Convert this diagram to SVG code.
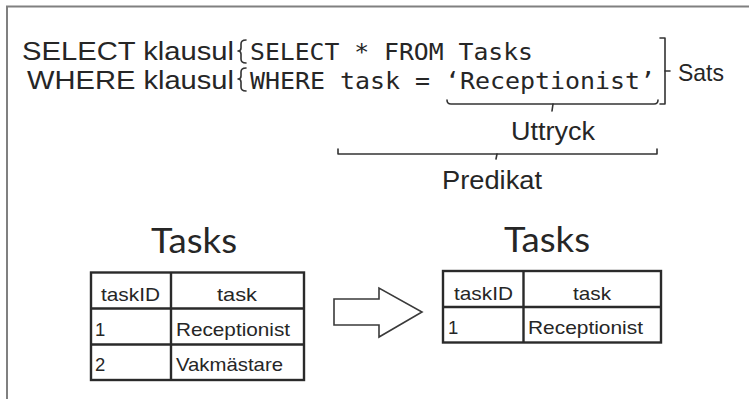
<svg xmlns="http://www.w3.org/2000/svg" width="749" height="399" viewBox="0 0 749 399">
<style>
.sans{font-family:"Liberation Sans",Arial,sans-serif;fill:#262626}
.mono{font-family:"DejaVu Sans Mono","Liberation Mono",monospace;fill:#262626}
.title{font-family:Lato,"Open Sans",sans-serif;fill:#262626}
.br{fill:none;stroke:#333;stroke-width:1.6;stroke-linejoin:round;stroke-linecap:round}
.tbl{fill:none;stroke:#2a2a2a;stroke-width:2.4}
.cell{font-family:"Liberation Sans",Arial,sans-serif;fill:#262626;font-size:18.5px}
</style>
<rect width="749" height="399" fill="#fff"/>
<path d="M7 399 L7 6.5 L749 6.5" fill="none" stroke="#808080" stroke-width="2"/>

<g id="query">
<text class="sans" x="22" y="60" font-size="25" textLength="212" lengthAdjust="spacingAndGlyphs">SELECT klausul</text>
<text class="sans" x="27" y="88.5" font-size="25" textLength="207" lengthAdjust="spacingAndGlyphs">WHERE klausul</text>
<text class="mono" x="250" y="60" font-size="23.5" textLength="283" lengthAdjust="spacingAndGlyphs">SELECT * FROM Tasks</text>
<text class="mono" x="250" y="88.5" font-size="23.5" textLength="405" lengthAdjust="spacingAndGlyphs">WHERE task = ‘Receptionist’</text>
</g>

<g id="connectors">
<path class="br" d="M246 40 Q241 40 241 44 L241 48 Q241 51 238 51 Q241 51 241 54 L241 59 Q241 63 246 63"/>
<path class="br" d="M246 68 Q241 68 241 72 L241 76 Q241 79 238 79 Q241 79 241 82 L241 87 Q241 91 246 91"/>
<path class="br" d="M660 38 L665 38 L665 104 L660 104"/>
<path class="br" d="M665 71 L670 71"/>
<path class="br" d="M447 100 Q447 104 451 104 L654 104 Q658 104 658 100"/>
<path class="br" d="M553 104 L552 111"/>
<path class="br" d="M338 149 L338 154 L657 154 L657 149"/>
<path class="br" d="M497 154 L496 159"/>
</g>

<g id="labels">
<text class="sans" x="678" y="81" font-size="24" textLength="46" lengthAdjust="spacingAndGlyphs">Sats</text>
<text class="sans" x="511" y="140" font-size="25" textLength="84" lengthAdjust="spacingAndGlyphs">Uttryck</text>
<text class="sans" x="442" y="189" font-size="25" textLength="100" lengthAdjust="spacingAndGlyphs">Predikat</text>
</g>

<g id="table-left">
<text class="title" x="151" y="253" font-size="34" textLength="86" lengthAdjust="spacingAndGlyphs">Tasks</text>
<rect class="tbl" x="91" y="272.5" width="213" height="107.5"/>
<path class="tbl" d="M91 308.5 H304 M91 344.5 H304 M171 272.5 V380"/>
<text class="cell" x="101" y="301" textLength="59" lengthAdjust="spacingAndGlyphs">taskID</text>
<text class="cell" x="217" y="301" textLength="40" lengthAdjust="spacingAndGlyphs">task</text>
<text class="cell" x="95" y="336">1</text>
<text class="cell" x="176" y="336" textLength="114" lengthAdjust="spacingAndGlyphs">Receptionist</text>
<text class="cell" x="95" y="371">2</text>
<text class="cell" x="176" y="371" textLength="107" lengthAdjust="spacingAndGlyphs">Vakmästare</text>
</g>

<g id="arrow">
<polygon points="334,299 379,299 379,288 422,312 379,337 379,325 334,325" fill="#fff" stroke="#3a3a3a" stroke-width="1.6" stroke-linejoin="miter"/>
</g>

<g id="table-right">
<text class="title" x="504" y="252" font-size="34" textLength="86" lengthAdjust="spacingAndGlyphs">Tasks</text>
<rect class="tbl" x="443" y="271" width="218" height="71.5"/>
<path class="tbl" d="M443 307 H661 M523.5 271 V342.5"/>
<text class="cell" x="454" y="300" textLength="59" lengthAdjust="spacingAndGlyphs">taskID</text>
<text class="cell" x="573" y="300" textLength="38" lengthAdjust="spacingAndGlyphs">task</text>
<text class="cell" x="448" y="334">1</text>
<text class="cell" x="528" y="334" textLength="115" lengthAdjust="spacingAndGlyphs">Receptionist</text>
</g>
</svg>
